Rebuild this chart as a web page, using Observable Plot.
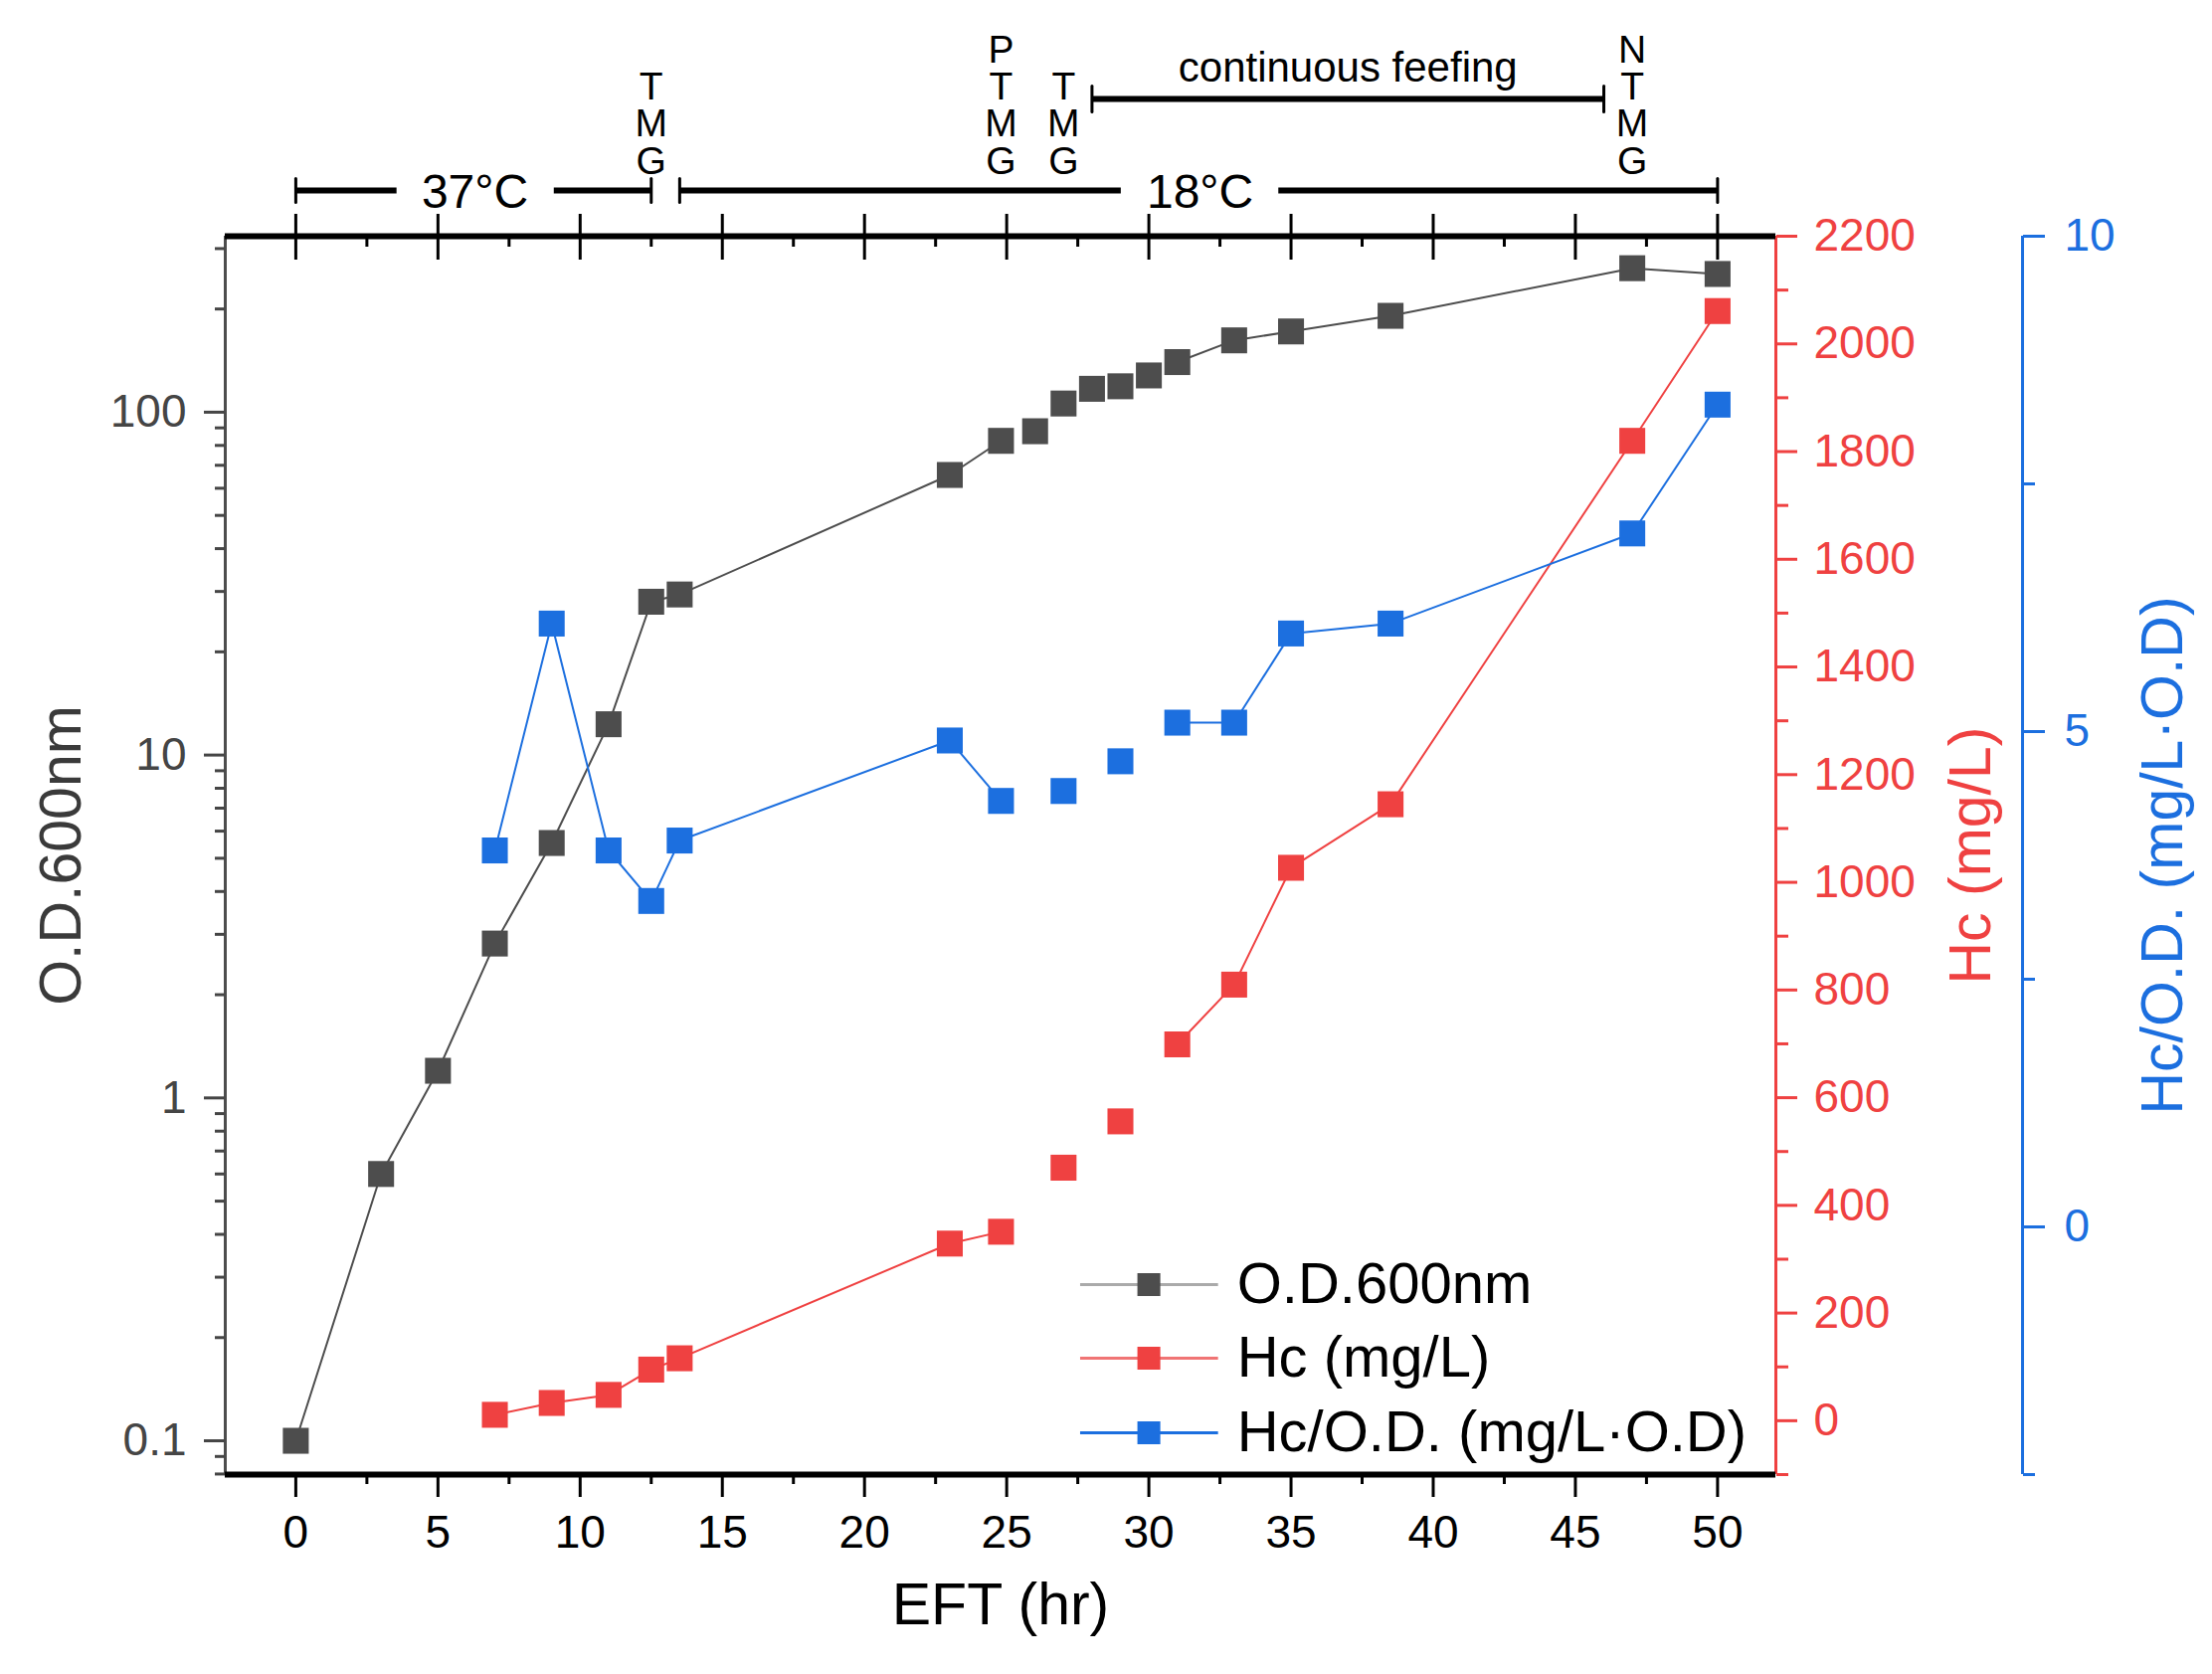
<!DOCTYPE html>
<html>
<head>
<meta charset="utf-8">
<script src="https://cdn.jsdelivr.net/npm/d3@7"></script>
<script src="https://cdn.jsdelivr.net/npm/@observablehq/plot@0.6"></script>
<style>
  html, body { margin: 0; padding: 0; background: white; overflow: hidden; }
</style>
</head>
<body>
<div id="chart"></div>
<script>
// fermentation time (hr)
const odTime = [0, 3, 5, 7, 9, 11, 12.5, 13.5, 23, 24.8, 26, 27, 28, 29, 30, 31, 33, 35, 38.5, 47, 50];
const od600 = [0.1, 0.6, 1.2, 2.82, 5.54, 12.3, 28, 29.4, 65.6, 82.5, 88, 106, 117, 119, 128, 140, 162, 172, 191, 263, 253];

const hcTime = [7, 9, 11, 12.5, 13.5, 23, 24.8, 27, 29, 31, 33, 35, 38.5, 47, 50];
const hc = [11, 33, 48, 95, 116, 329, 351, 470, 556, 699, 810, 1027, 1145, 1820, 2061];
const hcPerOd = [3.8, 6.09, 3.8, 3.29, 3.9, 4.91, 4.3, 4.4, 4.7, 5.09, 5.09, 5.99, 6.09, 7.0, 8.3];

// no connecting line between these times in the original
const gapFrom = 24.8, gapTo = 31;

const xTicks = [0, 5, 10, 15, 20, 25, 30, 35, 40, 45, 50];
const odTicks = [0.1, 1, 10, 100];
const hcTicks = [0, 200, 400, 600, 800, 1000, 1200, 1400, 1600, 1800, 2000, 2200];
const ratioTicks = [0, 5, 10];

const legendNames = ["O.D.600nm", "Hc (mg/L)", "Hc/O.D. (mg/L\u00b7O.D)"];

const stages = ["37°C", "18°C"];
const stageAt = [6.3, 31.8];
const feedLabel = "continuous feefing";
const additions = ["T\nM\nG", "P\nT\nM\nG", "T\nM\nG", "N\nT\nM\nG"];
const additionAt = [12.5, 24.8, 27, 47];

const gray = "#4d4d4d", red = "#ef4141", blue = "#1c6fdf";

const xDomain = [-2.48, 52.05];
const odDomain = [0.0797, 326];
const hcDomain = [-100, 2200];
const ratioDomain = [-2.5, 10];

// the two right-hand axes are mapped onto the log O.D. scale
const logLo = Math.log10(odDomain[0]), logHi = Math.log10(odDomain[1]);
const onLeft = ([a, b]) => (v) => 10 ** (logLo + ((v - a) / (b - a)) * (logHi - logLo));
const fromLeft = ([a, b]) => (y) => a + ((Math.log10(y) - logLo) / (logHi - logLo)) * (b - a);
const hcY = onLeft(hcDomain), ratioY = onLeft(ratioDomain);

const odRows = odTime.map((t, i) => ({ t, v: od600[i] }));
const hcRows = hcTime.map((t, i) => ({ t, v: hcY(hc[i]) }));
const ratioRows = hcTime.map((t, i) => ({ t, v: ratioY(hcPerOd[i]) }));

const before = (d) => d.t <= gapFrom;
const after = (d) => d.t >= gapTo;

const xMinor = d3.range(2.5, 50, 5);
const odMinor = [];
for (let e = -2; e <= 2; e++) for (let k = 2; k <= 9; k++) {
  const v = +(k * 10 ** e).toPrecision(3);
  if (v >= odDomain[0] && v <= odDomain[1]) odMinor.push(v);
}
const hcMinor = d3.range(-100, 2200, 200);
const ratioMinor = [-2.5, 2.5, 7.5];

const yTop = odDomain[1], yBot = odDomain[0];
const capShape = { draw(ctx, l) { ctx.moveTo(0, 0); ctx.lineTo(0, -l); } };

function series(rows, color, lineColor) {
  return [
    Plot.line(rows, { x: "t", y: "v", filter: before, stroke: lineColor, strokeWidth: 2 }),
    Plot.line(rows, { x: "t", y: "v", filter: after, stroke: lineColor, strokeWidth: 2 }),
    Plot.dot(rows, { x: "t", y: "v", symbol: "square", r: 14.7, fill: color })
  ];
}

const legendColors = [gray, red, blue];
const legendLines = ["#aaaaaa", "#f07474", blue];
const legendDy = [-191, -117, -42];
const legendMarks = legendNames.flatMap((name, i) => [
  Plot.ruleY([yBot], { x1: 27.6, x2: 32.45, dy: legendDy[i], stroke: legendLines[i], strokeWidth: 3 }),
  Plot.dot([yBot], { x: 30.0, y: (d) => d, dy: legendDy[i], symbol: "square", r: 13, fill: legendColors[i] }),
  Plot.text([name], { x: 33.1, y: yBot, dy: legendDy[i], textAnchor: "start", fontSize: 58, fill: "black" })
]);

const chart = Plot.plot({
  width: 2224,
  height: 1683,
  marginTop: 237,
  marginBottom: 201,
  marginLeft: 226,
  marginRight: 439,
  style: { fontFamily: "Liberation Sans, Arial, sans-serif", background: "white", color: "black" },
  x: { domain: xDomain },
  y: { type: "log", domain: odDomain },
  marks: [
    // frame
    Plot.ruleX([xDomain[0]], { stroke: gray, strokeWidth: 3 }),
    Plot.ruleX([xDomain[1]], { stroke: red, strokeWidth: 3 }),
    Plot.ruleX([xDomain[1]], { dx: 248, stroke: blue, strokeWidth: 3 }),
    Plot.ruleY([yTop], { stroke: "black", strokeWidth: 6 }),
    Plot.ruleY([yBot], { stroke: "black", strokeWidth: 6 }),

    // bottom axis
    Plot.axisX(xTicks, { anchor: "bottom", tickSize: 23, tickPadding: 18, strokeWidth: 3, fontSize: 46, fill: "black", label: null }),
    Plot.axisX(xMinor, { anchor: "bottom", tickSize: 10, strokeWidth: 3, text: null, label: null }),
    // top axis, ticks crossing the line
    Plot.axisX(xTicks, { anchor: "top", tickSize: 23, strokeWidth: 3, text: null, label: null }),
    Plot.axisX(xTicks, { anchor: "top", tickSize: -23, strokeWidth: 3, text: null, label: null }),
    Plot.axisX(xMinor, { anchor: "top", tickSize: -10, strokeWidth: 3, text: null, label: null }),

    // left log axis
    Plot.axisY(odTicks, { anchor: "left", tickSize: 21, tickPadding: 18, strokeWidth: 3, fontSize: 46, color: "#454545", tickFormat: (d) => String(d), label: null }),
    Plot.axisY(odMinor, { anchor: "left", tickSize: 10, strokeWidth: 3, color: "#454545", text: null, label: null }),

    // red Hc axis
    Plot.axisY(hcTicks.map(hcY), { anchor: "right", tickSize: 21, tickPadding: 17, strokeWidth: 3, fontSize: 46, color: red, tickFormat: (d) => String(Math.round(fromLeft(hcDomain)(d))), label: null }),
    Plot.axisY(hcMinor.map(hcY), { anchor: "right", tickSize: 12, strokeWidth: 3, color: red, text: null, label: null }),

    // blue Hc/OD axis
    Plot.axisY(ratioTicks.map(ratioY), { anchor: "right", dx: 248, tickSize: 22, tickPadding: 20, strokeWidth: 3, fontSize: 46, color: blue, tickFormat: (d) => String(Math.round(fromLeft(ratioDomain)(d))), label: null }),
    Plot.axisY(ratioMinor.map(ratioY), { anchor: "right", dx: 248, tickSize: 12, strokeWidth: 3, color: blue, text: null, label: null }),

    // axis titles
    Plot.text(["O.D.600nm"], { frameAnchor: "left", dx: -164, rotate: -90, textAnchor: "middle", fontSize: 59, fill: "#3a3a3a" }),
    Plot.text(["EFT (hr)"], { frameAnchor: "bottom", dy: 150, fontSize: 59, fill: "black" }),
    Plot.text(["Hc (mg/L)"], { frameAnchor: "right", dx: 197, rotate: -90, textAnchor: "middle", fontSize: 59, fill: red }),
    Plot.text(["Hc/O.D. (mg/L\u00b7O.D)"], { frameAnchor: "right", dx: 390, rotate: -90, textAnchor: "middle", fontSize: 59, fill: blue }),

    // stage annotations above the frame
    Plot.ruleY([[0, 3.56], [9.09, 12.5], [13.5, 29.03], [34.57, 50]], { x1: (d) => d[0], x2: (d) => d[1], y: yTop, dy: -46, stroke: "black", strokeWidth: 6 }),
    Plot.vector([0, 12.5, 13.5, 50], { x: (d) => d, y: yTop, dy: -46, length: 24, anchor: "middle", shape: capShape, stroke: "black", strokeWidth: 3 }),
    Plot.text(stages, { x: (d, i) => stageAt[i], y: yTop, dy: -44, fontSize: 48, fill: "black" }),
    Plot.ruleY([[28, 46]], { x1: (d) => d[0], x2: (d) => d[1], y: yTop, dy: -138, stroke: "black", strokeWidth: 6 }),
    Plot.vector([28, 46], { x: (d) => d, y: yTop, dy: -138, length: 26, anchor: "middle", shape: capShape, stroke: "black", strokeWidth: 3 }),
    Plot.text([feedLabel], { x: 37, y: yTop, dy: -156, lineAnchor: "bottom", fontSize: 42, fill: "black" }),
    Plot.text(additions, { x: (d, i) => additionAt[i], y: yTop, dy: -63, lineAnchor: "bottom", lineHeight: 0.95, fontSize: 39, fill: "black" }),

    // data
    ...series(odRows, gray, gray),
    ...series(hcRows, red, red),
    ...series(ratioRows, blue, blue),

    // legend
    ...legendMarks
  ]
});

d3.select("#chart").append(() => chart);
</script>
</body>
</html>
